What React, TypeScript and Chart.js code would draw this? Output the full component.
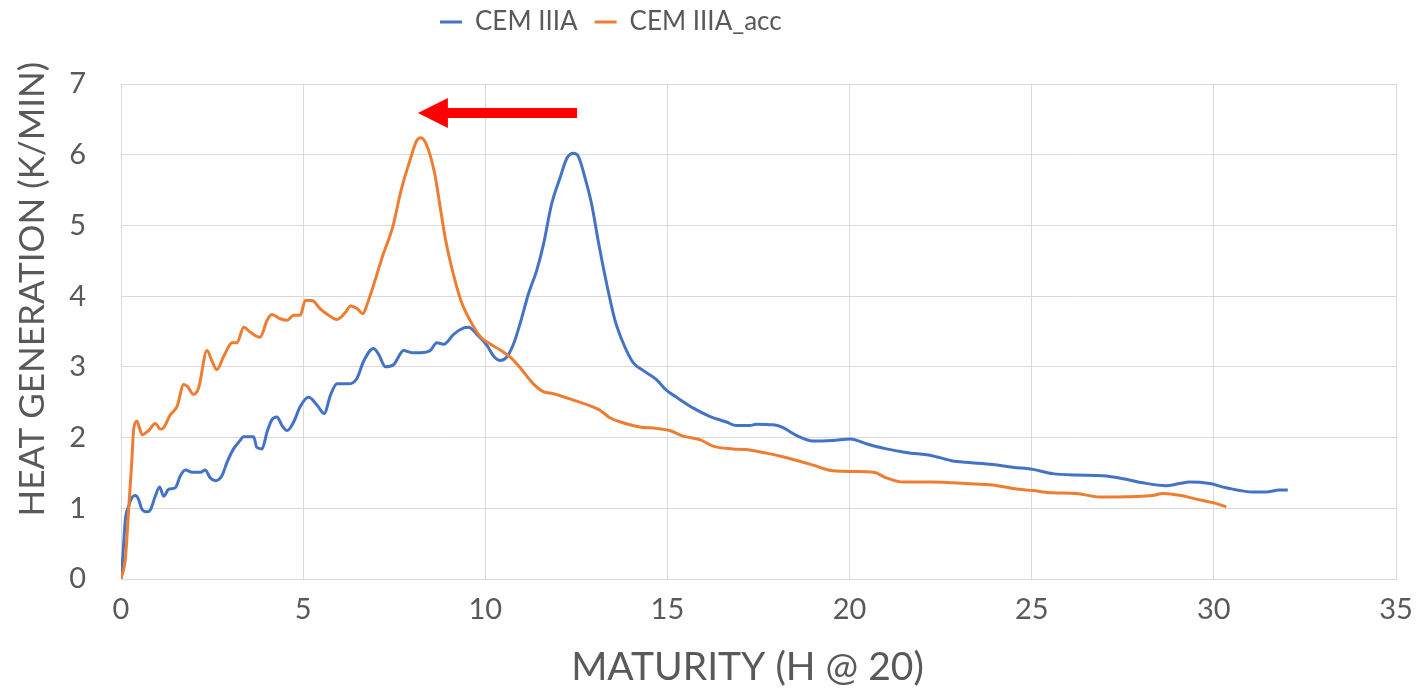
import React, { useEffect, useRef } from 'react';
import { Chart, registerables } from 'chart.js';

Chart.register(...registerables);

// ---------- data ----------
const SERIES_NAMES = ['CEM IIIA', 'CEM IIIA_acc'];

const CEM_X = [
  0, 0.05, 0.12, 0.21, 0.3, 0.39, 0.48, 0.58, 0.71, 0.81, 0.94, 1.06, 1.17, 1.31, 1.49, 1.63, 1.77, 1.95,
  2.18, 2.31, 2.45, 2.59, 2.77, 2.91, 3.09, 3.27, 3.36, 3.64, 3.73, 3.87, 4.01, 4.14, 4.28, 4.42, 4.56,
  4.74, 4.92, 5.15, 5.38, 5.58, 5.75, 5.93, 6.25, 6.48, 6.66, 6.93, 7.07, 7.26, 7.48, 7.76, 7.99, 8.22,
  8.49, 8.67, 8.86, 9.13, 9.41, 9.54, 9.77, 10.05, 10.23, 10.41, 10.59, 10.78, 10.96, 11.19, 11.41, 11.6,
  11.82, 12.05, 12.24, 12.42, 12.55, 12.74, 12.92, 13.1, 13.33, 13.56, 13.79, 14.06, 14.33, 14.7, 14.97,
  15.25, 15.7, 16.16, 16.62, 16.89, 17.26, 17.44, 17.9, 18.13, 18.58, 18.99, 19.54, 20.02, 20.48, 21.01,
  21.55, 22.29, 22.83, 23.2, 23.93, 24.48, 25.03, 25.58, 26.22, 26.95, 27.59, 28.05, 28.69, 29.06, 29.33,
  29.88, 30.34, 31.07, 31.44, 31.8, 32.03,
];
const CEM_Y = [
  0, 0.31, 0.84, 1.03, 1.15, 1.18, 1.13, 0.98, 0.95, 0.98, 1.17, 1.3, 1.17, 1.27, 1.29, 1.46, 1.54, 1.51,
  1.51, 1.54, 1.43, 1.39, 1.46, 1.65, 1.84, 1.96, 2.01, 2.01, 1.86, 1.84, 2.08, 2.25, 2.29, 2.17, 2.1,
  2.22, 2.44, 2.57, 2.46, 2.34, 2.6, 2.76, 2.76, 2.84, 3.08, 3.26, 3.18, 3.0, 3.03, 3.23, 3.2, 3.2,
  3.23, 3.34, 3.32, 3.46, 3.55, 3.56, 3.46, 3.3, 3.15, 3.09, 3.14, 3.33, 3.62, 4.04, 4.36, 4.74,
  5.3, 5.67, 5.95, 6.02, 5.98, 5.67, 5.3, 4.78, 4.18, 3.66, 3.33, 3.06, 2.95, 2.82, 2.67,
  2.57, 2.42, 2.3, 2.22, 2.17, 2.17, 2.19, 2.18, 2.15, 2.02, 1.95, 1.96, 1.98, 1.91, 1.84,
  1.79, 1.74, 1.67, 1.65, 1.62, 1.58, 1.55, 1.49, 1.47, 1.46, 1.41, 1.36, 1.32, 1.35, 1.37,
  1.35, 1.29, 1.23, 1.23, 1.26, 1.26,
];

const ACC_X = [
  0, 0.12, 0.21, 0.3, 0.35, 0.44, 0.51, 0.58, 0.76, 0.94, 1.08, 1.17, 1.35, 1.54, 1.72, 1.83, 1.99, 2.13,
  2.36, 2.5, 2.63, 2.82, 3.05, 3.18, 3.37, 3.55, 3.82, 4.01, 4.14, 4.37, 4.56, 4.74, 4.92, 5.06, 5.24,
  5.47, 5.7, 5.93, 6.16, 6.3, 6.49, 6.64, 6.76, 6.96, 7.19, 7.46, 7.69, 7.95, 8.12, 8.22, 8.36, 8.6,
  8.78, 8.92, 9.08, 9.33, 9.59, 9.86, 10.18, 10.41, 10.68, 11.0, 11.32, 11.59, 11.87, 12.42, 12.97,
  13.14, 13.42, 13.78, 14.24, 14.7, 15.06, 15.43, 15.89, 16.25, 16.8, 17.17, 17.71, 18.08, 18.45, 19.0,
  19.54, 20.11, 20.66, 21.01, 21.47, 22.29, 22.83, 23.2, 23.93, 24.48, 25.03, 25.58, 26.22, 26.86, 27.32,
  28.32, 28.6, 29.1, 29.51, 29.97, 30.34,
];
const ACC_Y = [
  0, 0.29, 0.98, 1.7, 2.13, 2.23, 2.13, 2.04, 2.1, 2.2, 2.12, 2.14, 2.32, 2.44, 2.75, 2.72, 2.61, 2.7,
  3.23, 3.08, 2.96, 3.15, 3.34, 3.34, 3.56, 3.49, 3.42, 3.66, 3.74, 3.68, 3.66, 3.73, 3.73, 3.94, 3.94,
  3.82, 3.73, 3.67, 3.77, 3.86, 3.82, 3.75, 3.89, 4.2, 4.58, 4.98, 5.5, 5.95, 6.2, 6.24, 6.17, 5.76,
  5.2, 4.77, 4.4, 3.94, 3.65, 3.43, 3.31, 3.24, 3.14, 2.96, 2.76, 2.65, 2.62, 2.53, 2.43,
  2.39, 2.28, 2.21, 2.15, 2.13, 2.1, 2.02, 1.97, 1.88, 1.84, 1.83, 1.78, 1.74, 1.69, 1.61,
  1.53, 1.52, 1.51, 1.43, 1.37, 1.37, 1.36, 1.35, 1.33, 1.28, 1.25, 1.22, 1.21, 1.16, 1.16,
  1.18, 1.21, 1.18, 1.13, 1.08, 1.02,
];

const X_TICKS = [0, 5, 10, 15, 20, 25, 30, 35];
const Y_TICKS = [0, 1, 2, 3, 4, 5, 6, 7];
const X_TITLE = 'MATURITY (H @ 20)';
const Y_TITLE = 'HEAT GENERATION (K/MIN)';

// annotation arrow (data units)
const ARROW_TAIL = { x: 12.52, y: 6.59 };
const ARROW_HEAD = { x: 8.15, y: 6.59 };

// ---------- styles ----------
const BLUE = '#4472C4';
const ORANGE = '#ED7D31';
const TEXT = '#595959';
const GRID = '#D9D9D9';
const FONT = 'Lato';

const W = 1418;
const H = 691;
const PLOT_LEFT = 121;
const PLOT_RIGHT = 1396;
const PLOT_BOTTOM = 579;
const PLOT_TOP = 84;
const LEGEND_START_X = 440;
const LEGEND_CENTER_Y = 22;
const X_TITLE_DX = -11;
const Y_TITLE_DY = -22;

const toPoints = (xs: number[], ys: number[]) => xs.map((x, i) => ({ x, y: ys[i] }));

const layoutTweaks = {
  id: 'layoutTweaks',
  beforeLayout(chart: any) {
    const lg = chart.legend;
    if (lg && !lg.__patched) {
      const fit = lg.fit;
      lg.fit = function (this: any) {
        fit.call(this);
        if (this.options.display) this.height = PLOT_TOP;
      };
      lg.__patched = true;
    }
  },
  afterLayout(chart: any) {
    const lg = chart.legend;
    if (lg && lg.lineWidths) {
      const pad = lg.options.labels.padding;
      const size = lg.options.labels.font.size;
      const current = (lg.left + pad + lg.right - lg.lineWidths[0]) / 2;
      const dx = LEGEND_START_X - current;
      const dy = LEGEND_CENTER_Y - (lg.top + pad + size / 2);
      lg.left += dx;
      lg.right += dx;
      lg.top += dy;
      lg.bottom += dy;
    }
    const shifts: [string, number, number][] = [
      ['x', X_TITLE_DX, 0],
      ['y', 0, Y_TITLE_DY],
    ];
    shifts.forEach(([id, dx, dy]) => {
      const sc = chart.scales[id];
      if (sc && !sc.__titlePatched) {
        const orig = sc.drawTitle;
        sc.drawTitle = function (this: any, ...args: any[]) {
          this.ctx.save();
          this.ctx.translate(dx, dy);
          orig.apply(this, args);
          this.ctx.restore();
        };
        sc.__titlePatched = true;
      }
    });
  },
};

const arrowPlugin = {
  id: 'shiftArrow',
  afterDatasetsDraw(chart: any) {
    const { ctx, scales } = chart;
    const xs = scales.x;
    const ys = scales.y;
    const tail = xs.getPixelForValue(ARROW_TAIL.x);
    const tip = xs.getPixelForValue(ARROW_HEAD.x);
    const py = ys.getPixelForValue(ARROW_HEAD.y);
    const headLen = 30;
    const headHalf = 15;
    const shaftHalf = 5;
    ctx.save();
    ctx.fillStyle = '#FF0000';
    ctx.fillRect(tip + headLen - 1, py - shaftHalf, tail - (tip + headLen - 1), shaftHalf * 2);
    ctx.beginPath();
    ctx.moveTo(tip, py);
    ctx.lineTo(tip + headLen, py - headHalf);
    ctx.lineTo(tip + headLen, py + headHalf);
    ctx.closePath();
    ctx.fill();
    ctx.restore();
  },
};

export default function App() {
  const ref = useRef<HTMLCanvasElement>(null);

  useEffect(() => {
    document.body.style.margin = '0';
    const canvas = ref.current;
    if (!canvas) return;

    const chart = new Chart(canvas, {
      type: 'line',
      data: {
        datasets: [
          {
            label: SERIES_NAMES[0],
            data: toPoints(CEM_X, CEM_Y),
            borderColor: BLUE,
            backgroundColor: BLUE,
            borderWidth: 3,
            pointRadius: 0,
            cubicInterpolationMode: 'monotone',
            order: 2,
          },
          {
            label: SERIES_NAMES[1],
            data: toPoints(ACC_X, ACC_Y),
            borderColor: ORANGE,
            backgroundColor: ORANGE,
            borderWidth: 3,
            pointRadius: 0,
            cubicInterpolationMode: 'monotone',
            order: 1,
          },
        ],
      },
      options: {
        responsive: false,
        animation: false,
        devicePixelRatio: 1,
        layout: { padding: { top: 0, right: W - PLOT_RIGHT, bottom: 0, left: 0 } },
        plugins: {
          tooltip: { enabled: false },
          legend: {
            display: true,
            position: 'top',
            align: 'center',
            labels: {
              color: TEXT,
              font: { family: FONT, size: 26 },
              boxWidth: 22,
              boxHeight: 0,
              padding: 17,
              sort: (a: any, b: any) => a.datasetIndex - b.datasetIndex,
            },
          },
        },
        scales: {
          x: {
            type: 'linear',
            min: X_TICKS[0],
            max: X_TICKS[X_TICKS.length - 1],
            afterBuildTicks: (scale: any) => {
              scale.ticks = X_TICKS.map((v) => ({ value: v }));
            },
            afterFit: (scale: any) => {
              scale.height = H - PLOT_BOTTOM;
              scale.paddingLeft = 0;
              scale.paddingRight = 0;
            },
            grid: { color: GRID, lineWidth: 1, drawTicks: false },
            border: { color: GRID, width: 1 },
            ticks: {
              color: TEXT,
              font: { family: FONT, size: 29 },
              padding: 13,
              maxRotation: 0,
            },
            title: {
              display: true,
              text: X_TITLE,
              color: TEXT,
              font: { family: FONT, size: 39 },
              padding: { top: 0, bottom: 0 },
            },
          },
          y: {
            type: 'linear',
            min: Y_TICKS[0],
            max: Y_TICKS[Y_TICKS.length - 1],
            afterBuildTicks: (scale: any) => {
              scale.ticks = Y_TICKS.map((v) => ({ value: v }));
            },
            afterFit: (scale: any) => {
              scale.width = PLOT_LEFT;
            },
            grid: { color: GRID, lineWidth: 1, drawTicks: false },
            border: { color: GRID, width: 1 },
            ticks: {
              color: TEXT,
              font: { family: FONT, size: 29 },
              padding: 35,
            },
            title: {
              display: true,
              text: Y_TITLE,
              align: 'end',
              color: TEXT,
              font: { family: FONT, size: 35 },
              padding: { top: 12, bottom: 0 },
            },
          },
        },
      },
      plugins: [layoutTweaks, arrowPlugin],
    } as any);

    return () => chart.destroy();
  }, []);

  return (
    <div style={{ width: W, height: H }}>
      <canvas ref={ref} width={W} height={H} style={{ display: 'block', width: W, height: H }} />
    </div>
  );
}
